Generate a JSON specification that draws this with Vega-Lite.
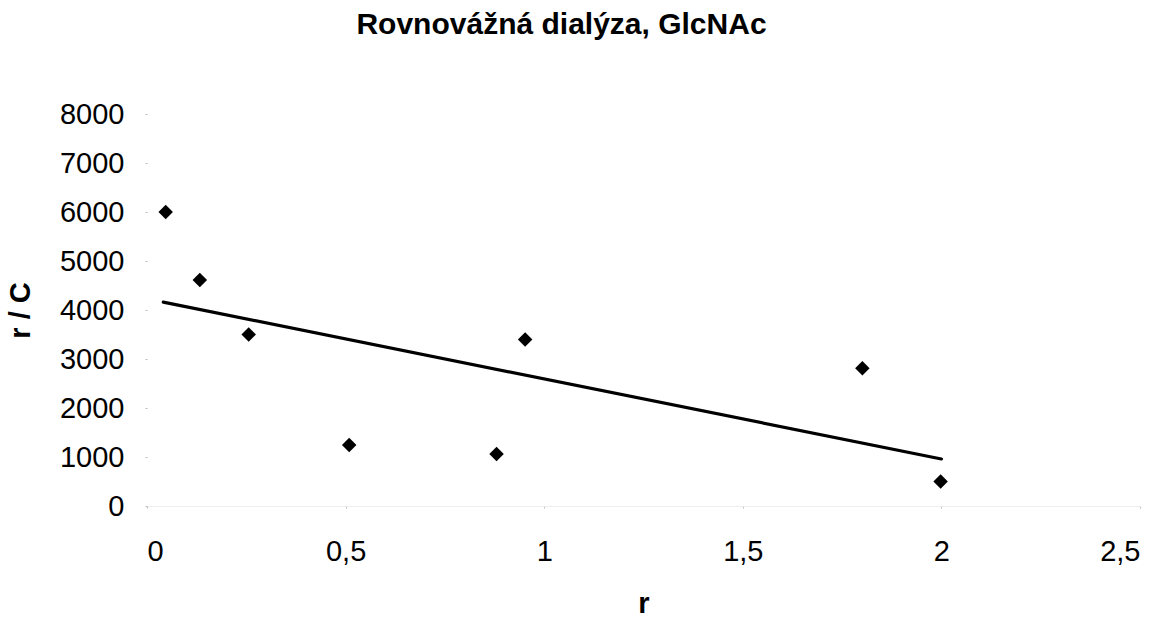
{
  "$schema": "https://vega.github.io/schema/vega-lite/v6.json",
  "autosize": "none",
  "width": 993,
  "height": 392,
  "padding": {"left": 147, "top": 114, "right": 23, "bottom": 113},
  "background": "white",
  "title": {
    "text": "Rovnovážná dialýza, GlcNAc",
    "font": "Liberation Sans",
    "fontSize": 30,
    "fontWeight": "bold",
    "color": "black",
    "anchor": "middle",
    "baseline": "alphabetic",
    "offset": 36,
    "dx": -82
  },
  "datasets": {
    "points": [
      {"r": 0.047, "rc": 6000},
      {"r": 0.133, "rc": 4610},
      {"r": 0.256, "rc": 3500},
      {"r": 0.509, "rc": 1245},
      {"r": 0.880, "rc": 1060},
      {"r": 0.952, "rc": 3400},
      {"r": 1.801, "rc": 2810},
      {"r": 1.998, "rc": 500}
    ],
    "trend": [
      {"r": 0.041, "rc": 4160},
      {"r": 2.0, "rc": 960}
    ]
  },
  "encoding": {
    "x": {
      "field": "r",
      "type": "quantitative",
      "title": "r",
      "scale": {"domain": [0, 2.5], "nice": false, "zero": false},
      "axis": {
        "values": [0, 0.5, 1, 1.5, 2, 2.5],
        "labelExpr": "replace(format(datum.value, '~g'), '.', ',')",
        "grid": false,
        "domain": true,
        "domainColor": "#eeeeee",
        "domainWidth": 1,
        "ticks": true,
        "tickSize": 2,
        "tickColor": "#bbbbbb",
        "labelFont": "Liberation Sans",
        "labelFontSize": 29,
        "labelColor": "black",
        "labelPadding": 29,
        "titleFont": "Liberation Sans",
        "titleFontSize": 29,
        "titleFontWeight": "bold",
        "titleColor": "black",
        "titlePadding": 23
      }
    },
    "y": {
      "field": "rc",
      "type": "quantitative",
      "title": "r / C",
      "scale": {"domain": [0, 8000], "nice": false},
      "axis": {
        "values": [0, 1000, 2000, 3000, 4000, 5000, 6000, 7000, 8000],
        "format": "d",
        "grid": false,
        "domain": false,
        "ticks": true,
        "tickSize": 2,
        "tickColor": "#bbbbbb",
        "labelFont": "Liberation Sans",
        "labelFontSize": 29,
        "labelColor": "black",
        "labelPadding": 21,
        "titleFont": "Liberation Sans",
        "titleFontSize": 29,
        "titleFontWeight": "bold",
        "titleColor": "black",
        "titlePadding": 24
      }
    }
  },
  "layer": [
    {
      "data": {"name": "trend"},
      "mark": {"type": "line", "color": "black", "strokeWidth": 3.2, "strokeCap": "round"}
    },
    {
      "data": {"name": "points"},
      "mark": {"type": "point", "shape": "diamond", "filled": true, "color": "black", "opacity": 1, "size": 210}
    }
  ],
  "config": {"view": {"stroke": null}}
}
